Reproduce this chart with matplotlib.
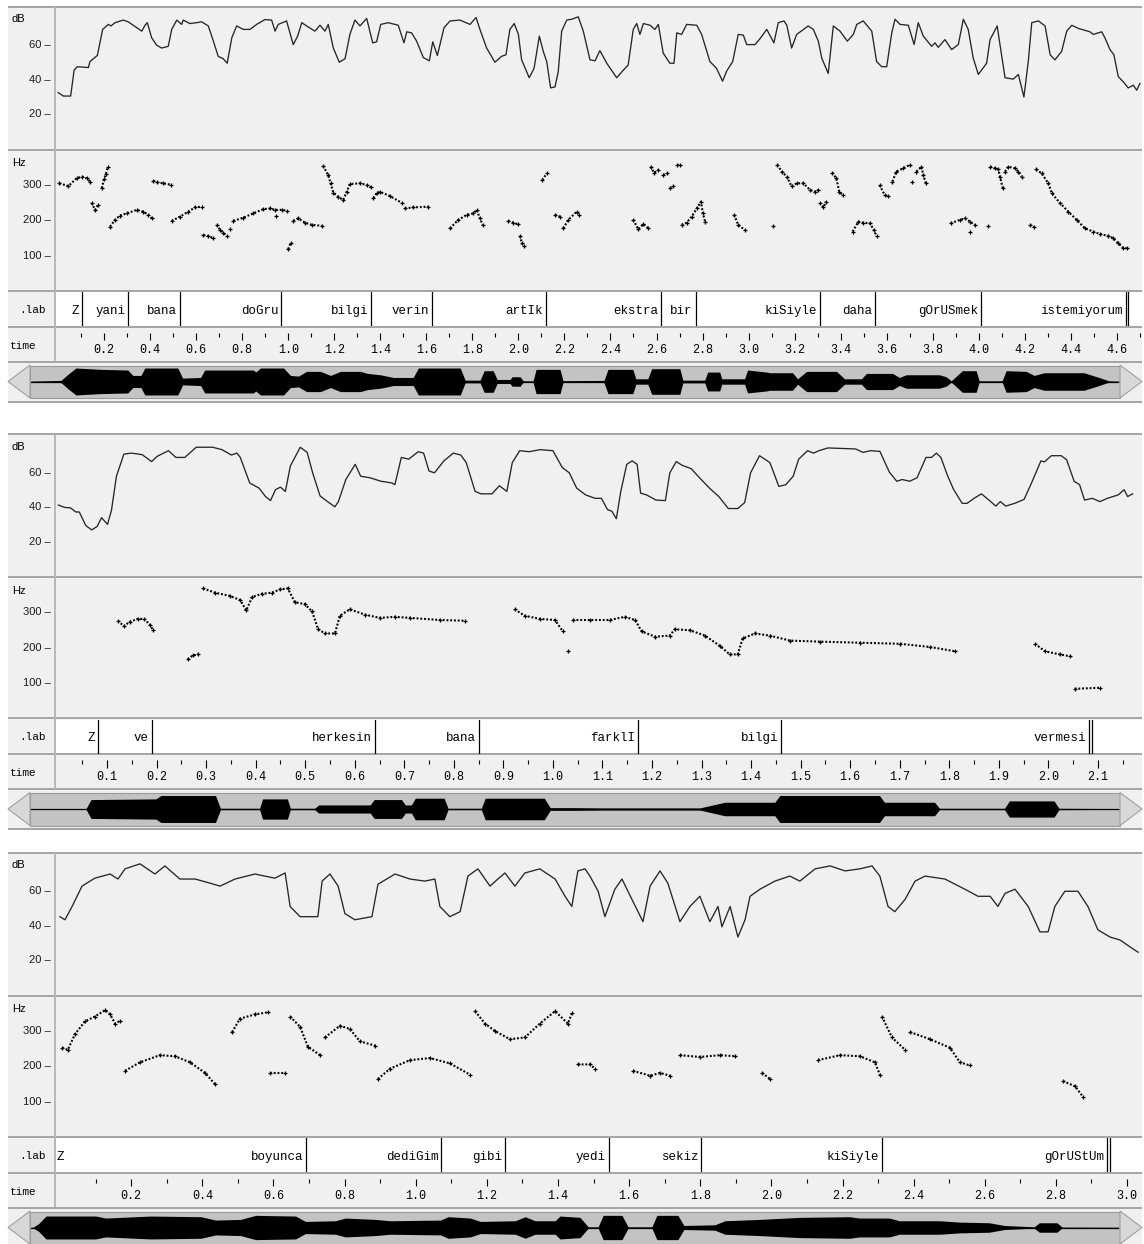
import numpy as np
import matplotlib
matplotlib.use("Agg")
import matplotlib.pyplot as plt
from matplotlib.patches import Polygon, Rectangle

plt.rcParams['font.family'] = ['Liberation Sans', 'DejaVu Sans']
MONO = 'Liberation Mono'

# ===================== DATA =====================
# ---- group 1 ----
db1 = [(0.001,32),(0.023,30),(0.055,30),(0.070,45),(0.084,47),(0.132,46.5),(0.139,50),(0.171,53.5),(0.194,68.6),(0.219,71.5),
       (0.230,70.6),(0.248,72.5),(0.284,74),(0.305,73),(0.342,69.6),(0.364,67.6),(0.378,71),(0.388,72.5),(0.407,63.7),(0.429,59.4),
       (0.450,57.8),(0.479,58.8),(0.494,68.6),(0.516,74),(0.537,71.5),(0.544,74),(0.573,72),(0.603,72.5),(0.624,73),(0.653,70.6),
       (0.675,61.8),(0.696,53),(0.718,51.6),(0.735,49),(0.755,63.7),(0.776,70.6),(0.805,68.6),(0.834,68.6),(0.863,71.5),(0.899,74.3),
       (0.928,74),(0.943,67.6),(0.957,71.5),(0.993,73.5),(1.022,59.8),(1.041,64.7),(1.059,72.5),(1.087,70),(1.116,67.6),(1.138,71),
       (1.160,67.6),(1.174,71.5),(1.196,57.8),(1.222,49.6),(1.247,51.6),(1.268,65.7),(1.290,74),(1.312,70.6),(1.341,75),(1.367,60.8),
       (1.384,61.4),(1.402,71.5),(1.435,72.5),(1.478,71),(1.503,60.8),(1.515,67.2),(1.536,66.6),(1.558,61.8),(1.587,52.3),(1.613,50.4),
       (1.628,61.4),(1.648,53.5),(1.677,69.6),(1.703,73.5),(1.746,74),(1.790,71.5),(1.816,75.5),(1.833,68.6),(1.862,57.8),(1.898,49.6),
       (1.927,53),(1.946,53.9),(1.963,68.6),(1.982,72),(2.000,65.7),(2.014,51),(2.047,40.6),(2.068,46),(2.091,64.7),(2.108,55.9),
       (2.123,50),(2.140,34.7),(2.159,35.3),(2.173,44),(2.188,67.6),(2.210,74),(2.232,74.5),(2.260,75.9),(2.282,67.6),(2.311,51),
       (2.333,50.4),(2.354,56.3),(2.384,49),(2.427,40.6),(2.456,45),(2.477,48),(2.499,68.6),(2.514,72),(2.528,65.7),(2.543,72),
       (2.572,71),(2.593,68.6),(2.608,71.5),(2.629,54.9),(2.658,49),(2.676,49),(2.688,66.6),(2.709,65.7),(2.731,71.5),(2.775,71),
       (2.796,65.7),(2.832,50),(2.861,46),(2.887,38.6),(2.905,44.5),(2.931,50),(2.955,65.7),(2.977,65.3),(2.992,59.8),(3.028,59.8),
       (3.050,63.3),(3.079,68.6),(3.110,60.8),(3.129,72.5),(3.154,73.5),(3.166,71),(3.187,57.8),(3.209,65.7),(3.259,70.6),(3.281,68.6),
       (3.303,61.8),(3.318,51.9),(3.346,43.1),(3.368,70.6),(3.397,67.6),(3.429,61.8),(3.455,65.7),(3.470,71.5),(3.498,73.5),(3.535,67.6),
       (3.556,50),(3.578,47),(3.600,47),(3.622,66.6),(3.636,74.5),(3.658,71.5),(3.694,71),(3.719,59.8),(3.737,72.5),(3.759,64.7),
       (3.795,58.8),(3.810,60.8),(3.824,58.2),(3.853,62.7),(3.882,56.9),(3.911,59.8),(3.933,74.5),(3.954,68.6),(3.976,51.9),(3.998,42.5),
       (4.034,49),(4.049,62.7),(4.080,70.6),(4.092,59.8),(4.114,40.6),(4.150,39.8),(4.172,42.5),(4.196,29.4),(4.215,50),(4.230,72.5),
       (4.259,73.5),(4.288,70.6),(4.310,53.9),(4.331,51),(4.360,55.9),(4.382,67.6),(4.404,71),(4.432,69.2),(4.483,67.2),(4.497,65.7),
       (4.534,67.2),(4.548,63.7),(4.570,56.9),(4.587,53.9),(4.606,41.2),(4.628,38.2),(4.649,34.7),(4.671,36.3),(4.686,33.4),(4.700,37.3)]

f0_1 = [
    [(0.006,302),(0.045,294),(0.081,316),(0.103,321),(0.125,316),(0.139,307)],
    [(0.146,247),(0.161,227),(0.175,241)],
    [(0.190,288),(0.200,313),(0.208,328),(0.216,349)],
    [(0.226,180),(0.248,199),(0.269,211),(0.298,217),(0.342,227),(0.371,222),(0.392,213),(0.407,203)],
    [(0.414,309),(0.429,305),(0.457,302),(0.490,298)],
    [(0.494,196),(0.530,208),(0.566,222),(0.595,234),(0.624,236)],
    [(0.631,156),(0.653,153),(0.675,147)],
    [(0.689,185),(0.704,171),(0.718,163),(0.733,154)],
    [(0.747,172)],
    [(0.762,196),(0.805,205),(0.848,217),(0.892,229),(0.921,231),(0.943,227),(0.972,227),(0.993,225)],
    [(0.947,210)],
    [(1.000,116),(1.011,135)],
    [(1.022,196),(1.044,203),(1.073,191),(1.102,185),(1.146,182)],
    [(1.152,351),(1.174,325),(1.184,302),(1.196,276),(1.217,264),(1.239,255),(1.254,278),(1.268,300),(1.312,302),(1.341,297),(1.358,291)],
    [(1.370,260),(1.384,274),(1.399,278),(1.442,266),(1.493,247)],
    [(1.507,231),(1.543,234),(1.609,236)],
    [(1.703,175),(1.739,199),(1.775,213),(1.804,217),(1.819,227),(1.833,203),(1.845,185)],
    [(1.956,196),(1.978,191),(1.997,187)],
    [(2.007,154),(2.014,135),(2.024,125)],
    [(2.104,311),(2.123,330)],
    [(2.159,213),(2.181,208)],
    [(2.195,175),(2.217,199),(2.253,222),(2.265,213)],
    [(2.499,199),(2.521,172),(2.543,187),(2.565,175)],
    [(2.574,349),(2.589,332),(2.608,339)],
    [(2.629,325),(2.644,330)],
    [(2.658,288),(2.673,293)],
    [(2.688,354),(2.702,354)],
    [(2.709,185),(2.731,191),(2.753,208),(2.775,231),(2.793,250),(2.801,219),(2.811,194)],
    [(2.937,213),(2.955,185),(2.984,170)],
    [(3.107,182)],
    [(3.125,354),(3.144,335),(3.166,321),(3.187,293),(3.209,302),(3.238,302),(3.267,283),(3.288,278),(3.303,283)],
    [(3.310,247),(3.325,234),(3.336,250)],
    [(3.363,332),(3.381,316),(3.394,278),(3.409,269)],
    [(3.452,166),(3.477,194),(3.498,191),(3.527,189),(3.545,170),(3.556,152)],
    [(3.569,297),(3.591,269),(3.606,266)],
    [(3.625,307),(3.642,335),(3.671,344),(3.700,354)],
    [(3.711,307)],
    [(3.729,335),(3.751,349),(3.759,325),(3.770,302)],
    [(3.878,189),(3.918,199),(3.940,203),(3.962,194),(3.983,185)],
    [(3.962,166)],
    [(4.041,182)],
    [(4.049,349),(4.070,344),(4.085,341),(4.092,321),(4.104,288)],
    [(4.114,335),(4.128,349),(4.157,344),(4.172,335),(4.186,321)],
    [(4.222,185),(4.240,178)],
    [(4.249,341),(4.273,330),(4.302,302),(4.317,274),(4.353,246),(4.389,222),(4.425,199),(4.461,175),(4.497,166),
     (4.526,159),(4.562,154),(4.584,147),(4.606,133),(4.628,119),(4.643,119)],
]

lab1_words = ["Z", "yani", "bana", "doGru", "bilgi", "verin", "artIk", "ekstra", "bir",
              "kiSiyle", "daha", "gOrUSmek", "istemiyorum"]
lab1_ends = [0.103, 0.305, 0.530, 0.969, 1.360, 1.623, 2.120, 2.619, 2.770, 3.310, 3.549, 4.010, 4.638]
lab1_extra = [4.647]

wave1 = [(-0.013,0.03),(0.043,0.05),(0.117,0.08),(0.152,0.6),(0.182,1.0),(0.290,0.9),(0.407,0.85),(0.429,0.45),(0.464,0.45),
         (0.481,1.0),(0.624,1.0),(0.645,0.25),(0.723,0.3),(0.741,0.85),(0.953,0.85),(0.962,0.7),(0.983,1.0),(1.083,1.0),
         (1.113,0.45),(1.148,0.4),(1.183,0.75),(1.243,0.75),(1.287,0.45),(1.330,0.75),(1.417,0.75),(1.447,0.6),(1.503,0.5),
         (1.560,0.3),(1.646,0.3),(1.668,1.0),(1.850,1.0),(1.871,0.1),(1.936,0.1),(1.954,0.8),(1.993,0.8),(2.010,0.15),
         (2.066,0.15),(2.075,0.35),(2.110,0.35),(2.123,0.05),(2.166,0.05),(2.179,0.9),(2.283,0.9),(2.296,0.06),(2.474,0.08),
         (2.491,0.9),(2.599,0.9),(2.612,0.2),(2.664,0.2),(2.681,0.95),(2.803,0.95),(2.816,0.1),(2.911,0.1),(2.924,0.7),
         (2.976,0.7),(2.985,0.2),(3.084,0.2),(3.097,0.85),(3.180,0.7),(3.193,0.65),(3.292,0.65),(3.314,0.2),(3.353,0.75),
         (3.483,0.75),(3.518,0.2),(3.591,0.2),(3.613,0.6),(3.726,0.6),(3.756,0.3),(3.786,0.5),(3.929,0.5),(3.959,0.35),
         (3.981,0.05),(4.029,0.8),(4.089,0.8),(4.102,0.05),(4.202,0.05),(4.219,0.8),(4.306,0.75),(4.341,0.45),(4.384,0.65),
         (4.557,0.65),(4.622,0.3),(4.665,0.05),(4.709,0.03)]

time1_view = (-0.013, 4.709)
time1_major = [0.2, 0.4, 0.6, 0.8, 1.0, 1.2, 1.4, 1.6, 1.8, 2.0, 2.2, 2.4, 2.6, 2.8, 3.0, 3.2, 3.4, 3.6, 3.8, 4.0, 4.2, 4.4, 4.6]
time1_minor = [0.1, 0.3, 0.5, 0.7, 0.9, 1.1, 1.3, 1.5, 1.7, 1.9, 2.1, 2.3, 2.5, 2.7, 2.9, 3.1, 3.3, 3.5, 3.7, 3.9, 4.1, 4.3, 4.5, 4.7]

# ---- group 2 ----
db2 = [(0.002,40.7),(0.015,39.3),(0.026,39.1),(0.037,36.7),(0.044,36.7),(0.057,28.9),(0.069,26.3),(0.080,28.3),(0.089,33.4),
       (0.101,29.5),(0.109,37.7),(0.119,57.4),(0.134,70.2),(0.149,70.8),(0.171,69.9),(0.190,65.9),(0.201,68.9),(0.224,72.2),
       (0.239,68.3),(0.257,68.3),(0.280,74.2),(0.313,74.2),(0.332,72.8),(0.351,69.7),(0.362,70.8),(0.369,68.3),(0.388,53.5),
       (0.407,50.5),(0.420,45.6),(0.430,43.3),(0.440,49.6),(0.450,51.1),(0.460,48.6),(0.470,63.3),(0.490,74.2),(0.504,71.2),
       (0.515,59.4),(0.530,46.0),(0.545,42.7),(0.560,39.7),(0.567,42.7),(0.582,55.5),(0.601,64.3),(0.612,57.4),(0.631,56.5),
       (0.653,54.5),(0.675,53.5),(0.681,52.5),(0.694,68.3),(0.709,67.3),(0.728,71.6),(0.739,70.8),(0.750,60.4),(0.761,59.4),
       (0.780,66.3),(0.799,70.8),(0.814,69.7),(0.825,65.3),(0.843,48.6),(0.855,47.2),(0.877,47.2),(0.892,51.9),(0.907,48.6),
       (0.918,65.3),(0.933,72.2),(0.952,71.6),(0.974,72.8),(1.000,72.2),(1.019,62.4),(1.033,59.4),(1.048,50.5),(1.066,46.6),
       (1.085,44.6),(1.098,44.6),(1.110,38.1),(1.119,37.1),(1.128,32.8),(1.137,48.6),(1.149,64.3),(1.160,66.3),(1.170,64.3),
       (1.177,47.6),(1.189,46.6),(1.208,43.6),(1.227,43.3),(1.236,59.4),(1.249,65.9),(1.261,63.7),(1.279,61.8),(1.298,55.9),
       (1.316,50.5),(1.335,45.6),(1.354,38.7),(1.373,38.7),(1.387,42.1),(1.399,59.4),(1.417,69.3),(1.438,65.3),(1.456,51.5),
       (1.470,52.5),(1.485,57.4),(1.496,67.3),(1.514,72.2),(1.526,70.8),(1.537,72.2),(1.555,73.8),(1.611,73.2),(1.626,71.2),
       (1.641,72.2),(1.660,71.8),(1.679,59.8),(1.694,54.5),(1.705,55.5),(1.720,54.5),(1.735,56.5),(1.753,68.3),(1.764,68.3),
       (1.774,70.8),(1.783,68.3),(1.797,57.4),(1.809,49.6),(1.826,41.7),(1.836,41.7),(1.850,44.6),(1.865,47.2),(1.880,43.6),
       (1.894,40.1),(1.903,42.7),(1.914,40.1),(1.932,41.7),(1.951,44.0),(1.966,53.5),(1.985,66.3),(1.992,65.7),(2.006,69.3),
       (2.026,69.3),(2.037,66.9),(2.052,54.5),(2.063,52.5),(2.073,43.6),(2.089,44.6),(2.104,42.7),(2.119,44.6),(2.141,46.6),
       (2.153,49.6),(2.160,45.6),(2.170,47.2)]

f0_2 = [
    [(0.122,274),(0.134,259),(0.146,271),(0.162,279),(0.175,279),(0.187,262),(0.193,247)],
    [(0.263,165),(0.273,176),(0.284,179)],
    [(0.294,365),(0.318,353),(0.348,344),(0.369,332),(0.381,303),(0.393,341),(0.413,350),(0.433,353),(0.449,362),(0.465,365),
     (0.479,326),(0.499,321),(0.514,300),(0.526,250),(0.540,238),(0.560,238),(0.570,288),(0.590,306),(0.621,291),(0.651,282),
     (0.681,285),(0.711,282),(0.772,276),(0.822,274)],
    [(0.923,306),(0.943,288),(0.974,279),(1.004,276),(1.020,244)],
    [(1.030,188)],
    [(1.040,276),(1.075,276),(1.115,276),(1.145,285),(1.166,276),(1.179,244),(1.206,229),(1.236,232),(1.246,250),(1.277,247),
     (1.307,232),(1.337,203),(1.357,179),(1.373,179),(1.383,224),(1.408,238),(1.438,232),(1.478,218),(1.539,215),(1.620,212),
     (1.700,209),(1.761,200),(1.811,188)],
    [(1.973,209),(1.993,188),(2.023,179),(2.043,174)],
    [(2.053,82),(2.104,85)],
]

lab2_words = ["Z", "ve", "herkesin", "bana", "farklI", "bilgi", "vermesi"]
lab2_ends = [0.082, 0.190, 0.640, 0.850, 1.171, 1.460, 2.082]
lab2_extra = [2.088]

wave2 = [(-0.005,0.02),(0.106,0.03),(0.116,0.7),(0.247,0.75),(0.257,1.0),(0.367,1.0),(0.377,0.05),(0.456,0.05),(0.462,0.75),
         (0.512,0.75),(0.518,0.05),(0.567,0.05),(0.575,0.3),(0.679,0.3),(0.687,0.7),(0.742,0.7),(0.750,0.3),(0.762,0.3),
         (0.770,0.8),(0.828,0.8),(0.836,0.05),(0.903,0.05),(0.911,0.8),(1.030,0.8),(1.042,0.1),(1.096,0.1),(1.142,0.08),
         (1.344,0.08),(1.394,0.5),(1.495,0.5),(1.505,1.0),(1.706,1.0),(1.716,0.5),(1.817,0.5),(1.827,0.05),(1.958,0.05),
         (1.968,0.6),(2.058,0.6),(2.068,0.05),(2.189,0.03)]

time2_view = (-0.005, 2.189)
time2_major = [0.1, 0.2, 0.3, 0.4, 0.5, 0.6, 0.7, 0.8, 0.9, 1.0, 1.1, 1.2, 1.3, 1.4, 1.5, 1.6, 1.7, 1.8, 1.9, 2.0, 2.1]
time2_minor = [0.05, 0.15, 0.25, 0.35, 0.45, 0.55, 0.65, 0.75, 0.85, 0.95, 1.05, 1.15, 1.25, 1.35, 1.45, 1.55, 1.65,
               1.75, 1.85, 1.95, 2.05, 2.15]

# ---- group 3 ----
db3 = [(0.000,44.7),(0.014,42.9),(0.034,50.6),(0.062,62.4),(0.098,67),(0.141,69.4),(0.163,66.5),(0.183,72.4),(0.225,75.3),
       (0.267,69.4),(0.295,74.1),(0.337,66.5),(0.380,66.5),(0.422,64.1),(0.450,62.4),(0.492,66.5),(0.548,69.4),(0.604,67),
       (0.633,70),(0.647,50.6),(0.675,44.7),(0.725,44.7),(0.737,65.3),(0.759,69.4),(0.782,62.4),(0.801,46.5),(0.829,42.9),
       (0.877,44.7),(0.894,63.5),(0.942,69.4),(0.984,66.5),(1.026,65.3),(1.054,66.5),(1.068,50.6),(1.096,44.7),(1.125,47.6),
       (1.147,68.2),(1.175,72.4),(1.209,62.4),(1.231,66.5),(1.251,70),(1.279,62.4),(1.307,70),(1.349,72.4),(1.392,66.5),
       (1.420,56.5),(1.439,50.6),(1.456,71.2),(1.476,72.4),(1.490,68.2),(1.513,59.4),(1.532,44.7),(1.560,60.6),(1.580,66.5),
       (1.608,54.7),(1.639,41.8),(1.659,62.4),(1.687,71.2),(1.709,64.1),(1.743,41.8),(1.771,50.6),(1.799,56.5),(1.827,41.8),
       (1.850,50.6),(1.861,38.8),(1.884,50.6),(1.906,32.9),(1.926,42.9),(1.940,56.5),(1.968,60.6),(2.010,65.3),(2.052,68.2),
       (2.080,65.3),(2.123,72.4),(2.165,74.1),(2.207,71.2),(2.249,72.4),(2.283,74.1),(2.305,68.2),(2.328,50.6),(2.347,47.6),
       (2.376,54.7),(2.404,65.3),(2.432,68.2),(2.488,66.5),(2.544,60.6),(2.581,56.5),(2.615,56.5),(2.637,50.6),(2.657,58.2),
       (2.685,60.6),(2.722,50.6),(2.755,35.9),(2.778,35.9),(2.797,50.6),(2.825,59.4),(2.862,59.4),(2.890,50.6),(2.918,37.1),
       (2.952,32.9),(2.980,31.2),(3.009,27.1),(3.031,24.1)]

f0_3 = [
    [(0.006,250),(0.022,244),(0.042,288),(0.070,324),(0.098,338),(0.127,356),(0.141,344),(0.155,318),(0.169,326)],
    [(0.183,185),(0.225,209),(0.281,229),(0.323,226),(0.365,209),(0.408,179),(0.436,147)],
    [(0.484,294),(0.506,332),(0.548,344),(0.585,350)],
    [(0.590,179),(0.633,179)],
    [(0.647,338),(0.675,309),(0.697,253),(0.731,229)],
    [(0.745,279),(0.787,312),(0.815,303),(0.843,268),(0.886,256)],
    [(0.894,162),(0.928,191),(0.984,215),(1.040,221),(1.096,206),(1.153,174)],
    [(1.167,353),(1.195,318),(1.223,297),(1.265,274),(1.307,279),(1.349,318),(1.392,353),(1.428,318),(1.439,347)],
    [(1.456,203),(1.490,203),(1.504,191)],
    [(1.611,185),(1.659,171),(1.687,179),(1.715,171)],
    [(1.743,229),(1.799,224),(1.856,229),(1.898,226)],
    [(1.974,179),(1.996,162)],
    [(2.131,215),(2.193,229),(2.249,226),(2.291,209),(2.305,174)],
    [(2.311,338),(2.339,279),(2.376,244)],
    [(2.390,294),(2.446,274),(2.502,250),(2.530,209),(2.558,200)],
    [(2.820,156),(2.854,141),(2.876,112)],
]

lab3_words = ["Z", "boyunca", "dediGim", "gibi", "yedi", "sekiz", "kiSiyle", "gOrUStUm"]
lab3_ends = [0.020, 0.692, 1.071, 1.251, 1.543, 1.802, 2.311, 2.943]
lab3_extra = [2.952]

wave3 = [(-0.014,0.02),(-0.008,0.02),(0.008,0.3),(0.028,0.85),(0.168,0.85),(0.196,0.7),(0.322,0.85),(0.463,0.8),(0.505,0.55),
         (0.575,0.6),(0.617,0.9),(0.729,0.85),(0.757,0.45),(0.841,0.5),(0.869,0.7),(0.953,0.6),(0.995,0.5),(1.136,0.55),
         (1.158,0.8),(1.220,0.7),(1.248,0.45),(1.346,0.5),(1.374,0.8),(1.402,0.5),(1.458,0.5),(1.472,0.85),(1.528,0.75),
         (1.551,0.05),(1.579,0.05),(1.593,0.9),(1.646,0.9),(1.663,0.05),(1.730,0.05),(1.744,0.9),(1.803,0.9),(1.820,0.15),
         (1.907,0.2),(1.935,0.5),(2.033,0.6),(2.145,0.75),(2.285,0.8),(2.313,0.7),(2.397,0.7),(2.425,0.5),(2.538,0.5),
         (2.594,0.4),(2.678,0.35),(2.720,0.15),(2.804,0.05),(2.818,0.35),(2.868,0.35),(2.882,0.03),(3.042,0.02)]

time3_view = (-0.014, 3.042)
time3_major = [0.2, 0.4, 0.6, 0.8, 1.0, 1.2, 1.4, 1.6, 1.8, 2.0, 2.2, 2.4, 2.6, 2.8, 3.0]
time3_minor = [0.1, 0.3, 0.5, 0.7, 0.9, 1.1, 1.3, 1.5, 1.7, 1.9, 2.1, 2.3, 2.5, 2.7, 2.9]

db_ticks = [20, 40, 60]
hz_ticks = [100, 200, 300]

groups = [
    dict(oy=0, db=db1, f0=f0_1, words=lab1_words, ends=lab1_ends, extra=lab1_extra, wave=wave1,
         view=time1_view, major=time1_major, minor=time1_minor),
    dict(oy=427.5, db=db2, f0=f0_2, words=lab2_words, ends=lab2_ends, extra=lab2_extra, wave=wave2,
         view=time2_view, major=time2_major, minor=time2_minor),
    dict(oy=846, db=db3, f0=f0_3, words=lab3_words, ends=lab3_ends, extra=lab3_extra, wave=wave3,
         view=time3_view, major=time3_major, minor=time3_minor),
]

# ===================== DRAWING =====================
W, H = 1144, 1244
fig = plt.figure(figsize=(W / 100, H / 100), dpi=100)
fig.patch.set_facecolor('white')
bg = fig.add_axes([0, 0, 1, 1])
bg.set_xlim(0, W)
bg.set_ylim(H, 0)
bg.axis('off')
bg.set_zorder(-5)


def px(x, y, w, h):
    ax = fig.add_axes([x / W, 1 - (y + h) / H, w / W, h / H])
    for s in ax.spines.values():
        s.set_visible(False)
    ax.set_xticks([])
    ax.set_yticks([])
    ax.patch.set_alpha(0)
    return ax


SEP = '#a4a4a4'
PW = 1087  # plot width in px

for g in groups:
    oy = g['oy']
    xl = g['view']
    # backgrounds
    bg.add_patch(Rectangle((8, oy + 7), 1134, 395, fc='#f0f0f0', ec='none'))
    bg.add_patch(Rectangle((55, oy + 292), 1087, 34, fc='white', ec='none'))
    for yy in [6.5, 149.5, 290.5, 326.5, 361.5, 401.5]:
        bg.plot([8, 1142], [oy + yy] * 2, color=SEP, lw=1.4, solid_capstyle='butt')
    bg.plot([54.5, 54.5], [oy + 7, oy + 361], color='#b8b8b8', lw=1.4, solid_capstyle='butt')

    # dB panel
    ax = px(55, oy + 8, PW, 140)
    ax.set_xlim(xl)
    ax.set_ylim(-0.1, 81)
    t, v = zip(*g['db'])
    ax.plot(t, v, color='#262626', lw=0.95)
    ax.set_yticks(db_ticks, [f'{d} \u2013' for d in db_ticks])
    ax.tick_params(axis='y', length=0, pad=3, labelsize=8, labelcolor='#1a1a1a')
    ax.text((12 - 55) / PW, 1 - 11 / 140, 'dB', transform=ax.transAxes, fontsize=8, va='center', ha='left')

    # Hz panel
    ax = px(55, oy + 151, PW, 138)
    ax.set_xlim(xl)
    ax.set_ylim(4, 393)
    for seg in g['f0']:
        t, hz = zip(*seg)
        ax.plot(t, hz, color='black', lw=1.5, ls=(0, (0.9, 0.9)), marker='+', ms=3.2, mew=0.9)
    ax.set_yticks(hz_ticks, [f'{d} \u2013' for d in hz_ticks])
    ax.tick_params(axis='y', length=0, pad=3, labelsize=8, labelcolor='#1a1a1a')
    ax.text((12 - 55) / PW, 1 - 12 / 138, 'Hz', transform=ax.transAxes, fontsize=8, va='center', ha='left')

    # label panel
    ax = px(55, oy + 292, PW, 34)
    ax.set_xlim(xl)
    ax.set_ylim(0, 1)
    for w, e in zip(g['words'], g['ends']):
        if e > xl[0] + 0.05:
            ax.axvline(e, color='black', lw=0.9)
        ax.annotate(w, (e, 0.36), xytext=(-2, 0), textcoords='offset points', ha='right', va='baseline',
                    family=MONO, fontsize=9)
    for e in g['extra']:
        ax.axvline(e, color='black', lw=0.9)
    bg.text(33, oy + 310, '.lab', ha='center', va='center', family=MONO, fontsize=8)

    # time panel
    ax = px(55, oy + 327.5, PW, 33.5)
    ax.set_xlim(xl)
    ax.set_ylim(0, 1)
    ax.vlines(g['major'], 0.62, 0.84, color='black', lw=0.8)
    ax.vlines(g['minor'], 0.72, 0.84, color='black', lw=0.8)
    for tk in g['major']:
        ax.text(tk, 0.33, f'{tk:.1f}', ha='center', va='center', family=MONO, fontsize=8.5)
    bg.text(10, oy + 346, 'time', ha='left', va='center', family=MONO, fontsize=8)

    # scrollbar with waveform overview
    bg.add_patch(Rectangle((30, oy + 365.5), 1090, 32.5, fc='#c3c3c3', ec='#9a9a9a', lw=0.8))
    bg.add_patch(Polygon([(8, oy + 381.5), (30, oy + 365), (30, oy + 398)], closed=True,
                         fc='#d8d8d8', ec='#a0a0a0', lw=0.8))
    bg.add_patch(Polygon([(1142, oy + 381.5), (1120, oy + 365), (1120, oy + 398)], closed=True,
                         fc='#d8d8d8', ec='#a0a0a0', lw=0.8))
    ax = px(31, oy + 366, 1088, 31)
    ax.set_xlim(xl)
    ax.set_ylim(-1.15, 1.15)
    t, a = zip(*g['wave'])
    a = np.array(a)
    ax.fill_between(t, -a, a, color='black', lw=0)
    ax.axhline(0, color='black', lw=0.9)

fig.savefig('out.png', dpi=100, facecolor='white')
